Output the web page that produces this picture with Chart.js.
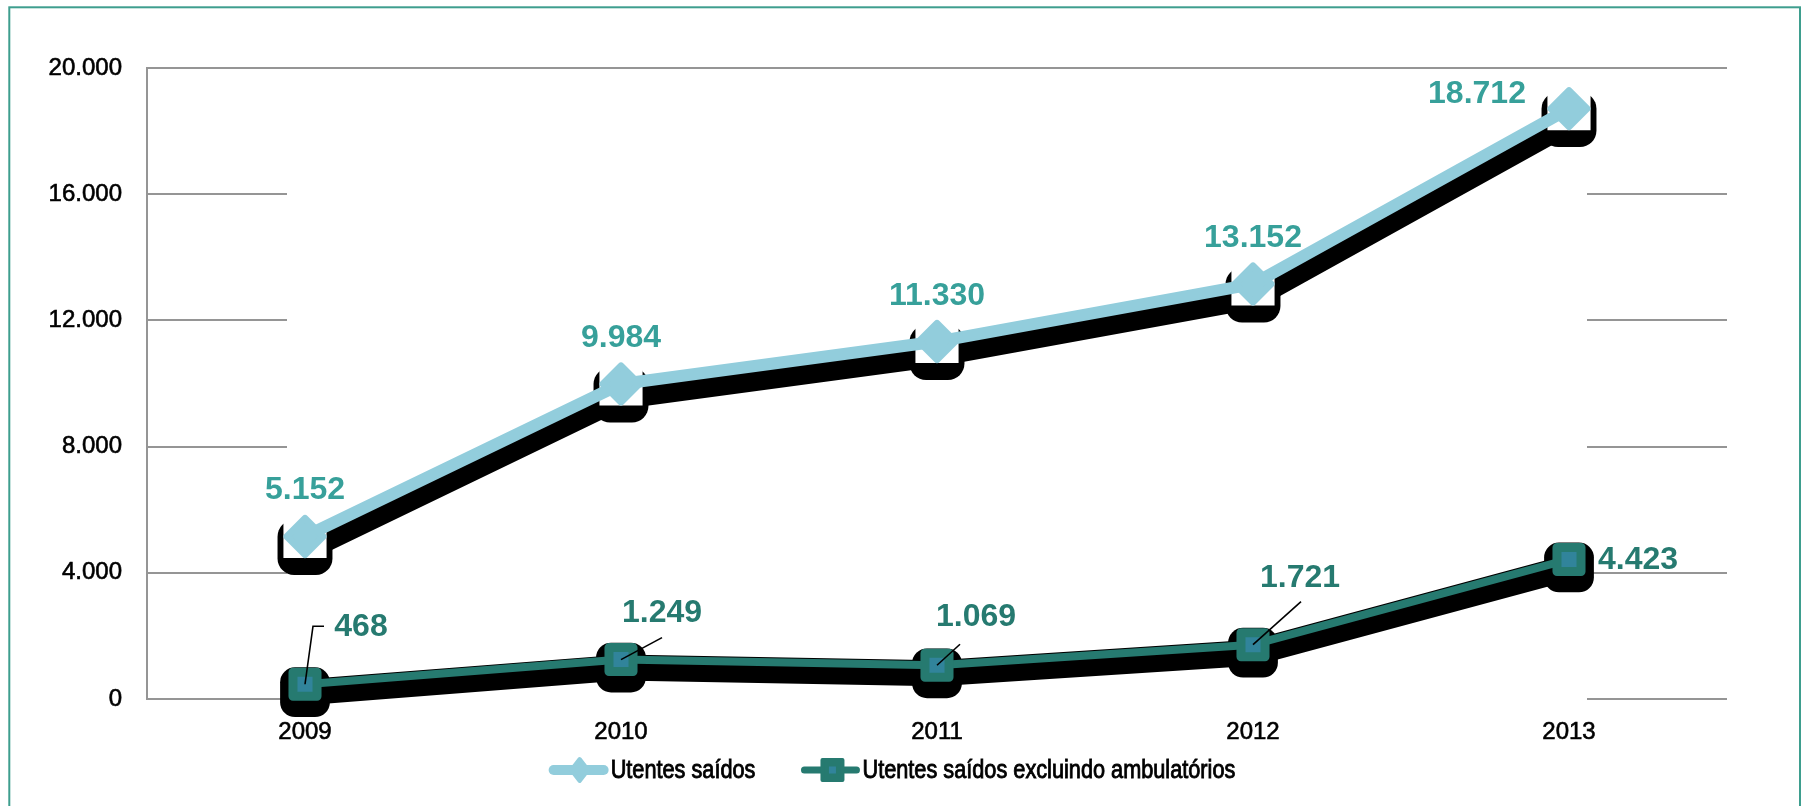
<!DOCTYPE html>
<html><head><meta charset="utf-8">
<script src="https://cdn.jsdelivr.net/npm/chart.js@4/dist/chart.umd.min.js"></script>
<style>html,body{margin:0;padding:0;background:#fff;overflow:hidden}canvas{display:block}</style>
</head><body>
<canvas id="c" width="1803" height="806"></canvas>
<script>
// ---- data ----
const categories = ['2009', '2010', '2011', '2012', '2013'];
const utentesSaidos = [5152, 9984, 11330, 13152, 18712];
const utentesSaidosExclAmb = [468, 1249, 1069, 1721, 4423];
const seriesNames = ['Utentes saídos', 'Utentes saídos excluindo ambulatórios'];
const yMin = 0, yMax = 20000, yStep = 4000;

// ---- label placement (pixel offsets from each point) ----
const upperLabelOffsets = [[0, -46], [0, -46], [0, -45], [0, -46], [-92, -14]];
const lowerLabelOffsets = [[56, -57], [41, -46], [39, -48], [47, -67], [69, 1]];
const lowerLeaders = [[[8, -58], [19, -58]], [[41, -22]], [[23, -21]], [[48, -43]], null];

// ---- styles ----
const C_UP = '#92CDDC';
const C_LOW = '#267A70';
const C_LOW_IN = '#31849B';
const C_UP_LABEL = '#37A09A';
const C_LOW_LABEL = '#267A70';
const C_FRAME = '#3E9E8E';
const C_GRID = '#959595';

const fmt = v => String(v).replace(/\B(?=(\d{3})+(?!\d))/g, '.');

function drawIcon(g, kind, x, y) {
  g.save();
  g.translate(x, y);
  g.lineCap = 'round'; g.lineJoin = 'round';
  if (kind === 0) {
    g.strokeStyle = C_UP; g.lineWidth = 10;
    g.beginPath(); g.moveTo(5, 0); g.lineTo(55, 0); g.stroke();
    g.fillStyle = C_UP; g.lineWidth = 4;
    g.beginPath(); g.moveTo(31, -11); g.lineTo(39.5, 0); g.lineTo(31, 11); g.lineTo(22.5, 0); g.closePath();
    g.fill(); g.stroke();
  } else {
    g.strokeStyle = C_LOW; g.lineWidth = 7;
    g.beginPath(); g.moveTo(4, 0); g.lineTo(56, 0); g.stroke();
    g.fillStyle = C_LOW; g.lineWidth = 4;
    g.beginPath(); g.rect(22, -10, 20, 20); g.fill(); g.stroke();
    g.fillStyle = C_LOW_IN; g.fillRect(28.5, -3.5, 7, 7);
  }
  g.restore();
}

// ---- plugins ----
const framePlugin = {
  id: 'frame',
  beforeDraw(chart) {
    const ctx = chart.ctx;
    ctx.save();
    ctx.fillStyle = '#fff';
    ctx.fillRect(0, 0, chart.width, chart.height);
    ctx.strokeStyle = C_FRAME; ctx.lineWidth = 2;
    ctx.strokeRect(9.3, 7.3, 1800 - 9.3, 900);
    ctx.restore();
  }
};

const gridMask = {
  id: 'gridMask',
  beforeDatasetsDraw(chart) {
    const ctx = chart.ctx, xs = chart.scales.x, ys = chart.scales.y;
    const x0 = xs.getPixelForTick(0) - 18;
    const x1 = xs.getPixelForTick(categories.length - 1) + 18;
    const y0 = ys.getPixelForValue(yMax) + 1.5;
    const y1 = ys.getPixelForValue(yMin) + 2;
    ctx.save(); ctx.fillStyle = '#fff'; ctx.fillRect(x0, y0, x1 - x0, y1 - y0); ctx.restore();
  }
};

const shiftPlugin = {
  id: 'shift',
  beforeDatasetDraw(chart, args, opts) {
    const ctx = chart.ctx;
    ctx.save();
    ctx.lineJoin = 'round';
    const s = opts.shifts[args.index];
    if (s) ctx.translate(s[0], s[1]);
  },
  afterDatasetDraw(chart) { chart.ctx.restore(); }
};

const labelPlugin = {
  id: 'valueLabels',
  afterDatasetsDraw(chart) {
    const ctx = chart.ctx;
    ctx.save();
    ctx.font = "bold 32px 'Liberation Sans', Arial, sans-serif";
    ctx.textAlign = 'center'; ctx.textBaseline = 'middle';
    const up = chart.getDatasetMeta(2).data;
    up.forEach((p, i) => {
      ctx.fillStyle = C_UP_LABEL;
      ctx.fillText(fmt(utentesSaidos[i]), p.x + upperLabelOffsets[i][0], p.y + upperLabelOffsets[i][1]);
    });
    const low = chart.getDatasetMeta(4).data;
    low.forEach((p, i) => {
      const L = lowerLeaders[i];
      if (L) {
        ctx.strokeStyle = '#000'; ctx.lineWidth = 1.6;
        ctx.beginPath(); ctx.moveTo(p.x, p.y);
        L.forEach(q => ctx.lineTo(p.x + q[0], p.y + q[1]));
        ctx.stroke();
      }
      ctx.fillStyle = C_LOW_LABEL;
      ctx.fillText(fmt(utentesSaidosExclAmb[i]), p.x + lowerLabelOffsets[i][0], p.y + lowerLabelOffsets[i][1]);
    });
    ctx.restore();
  }
};

// legend drawn in a condensed style (no narrow font is installed)
const legendPlugin = {
  id: 'condensedLegend',
  afterDraw(chart, args, opts) {
    const ctx = chart.ctx;
    const sx = opts.squeeze, iconW = 60, gapText = 2, gapItems = 45;
    ctx.save();
    ctx.font = "26px 'Liberation Sans', Arial, sans-serif";
    const w = seriesNames.map(t => ctx.measureText(t).width * sx);
    const total = iconW + gapText + w[0] + gapItems + iconW + gapText + w[1];
    let x = opts.centerX - total / 2;
    const y = opts.centerY;
    seriesNames.forEach((t, i) => {
      drawIcon(ctx, i, x, y);
      x += iconW + gapText;
      ctx.save();
      ctx.translate(x, y);
      ctx.scale(sx, 1);
      ctx.fillStyle = '#000'; ctx.strokeStyle = '#000'; ctx.lineWidth = 0.9;
      ctx.textAlign = 'left'; ctx.textBaseline = 'middle';
      ctx.fillText(t, 0, 1);
      ctx.strokeText(t, 0, 1);
      ctx.restore();
      x += w[i] + gapItems;
    });
    ctx.restore();
  }
};

Chart.defaults.font.family = "'Liberation Sans', Arial, sans-serif";

new Chart(document.getElementById('c'), {
  type: 'line',
  data: {
    labels: categories,
    datasets: [
      { // 0: shadow of upper series
        data: utentesSaidos, order: 6, borderColor: '#000', borderWidth: 28, borderJoinStyle: 'round',
        pointStyle: 'rectRounded', pointRadius: 32, pointBackgroundColor: '#000', pointBorderWidth: 0,
        pointHoverRadius: 32, tension: 0, clip: false
      },
      { // 1: white backing behind upper markers
        data: utentesSaidos, order: 5, showLine: false, pointStyle: 'rect', pointRadius: 30.5,
        pointBackgroundColor: '#fff', pointBorderWidth: 0, pointHoverRadius: 30.5, clip: false
      },
      { // 2: upper series
        label: seriesNames[0], data: utentesSaidos, order: 4, borderColor: C_UP, borderWidth: 12,
        borderJoinStyle: 'round', pointStyle: 'rectRot', pointRadius: 18, pointHoverRadius: 18,
        pointBackgroundColor: C_UP, pointBorderColor: C_UP, pointBorderWidth: 7, tension: 0, clip: false
      },
      { // 3: shadow of lower series
        data: utentesSaidosExclAmb, order: 3, borderColor: '#000', borderWidth: 26, borderJoinStyle: 'round',
        pointStyle: 'rectRounded', pointRadius: 29, pointBackgroundColor: '#000', pointBorderWidth: 0,
        pointHoverRadius: 29, tension: 0, clip: false
      },
      { // 4: lower series
        label: seriesNames[1], data: utentesSaidosExclAmb, order: 2, borderColor: C_LOW, borderWidth: 8,
        borderJoinStyle: 'round', pointStyle: 'rect', pointRadius: 17, pointHoverRadius: 17,
        pointBackgroundColor: C_LOW_IN, pointBorderColor: C_LOW, pointBorderWidth: 9, tension: 0, clip: false
      }
    ]
  },
  options: {
    responsive: false,
    animation: false,
    devicePixelRatio: 1,
    events: [],
    layout: { padding: { left: 0, right: 76, top: 68, bottom: 47 } },
    scales: {
      x: {
        offset: true,
        grid: { display: false, drawTicks: false },
        border: { display: false },
        ticks: { color: '#000', font: { size: 24 }, padding: 19, maxRotation: 0,
                 textStrokeColor: '#000', textStrokeWidth: 0.6 },
        afterFit(s) { s.height = 60; }
      },
      y: {
        min: yMin, max: yMax,
        grid: { color: C_GRID, lineWidth: 2, drawTicks: false },
        border: { display: true, color: C_GRID, width: 2 },
        ticks: { stepSize: yStep, color: '#000', font: { size: 24 }, padding: 25, callback: v => fmt(v),
                 textStrokeColor: '#000', textStrokeWidth: 0.6 },
        afterFit(s) { s.width = 147; }
      }
    },
    plugins: {
      tooltip: { enabled: false },
      legend: { display: false },
      shift: { shifts: { 0: [0, 11], 3: [0, 8] } },
      condensedLegend: { squeeze: 0.835, centerX: 892, centerY: 770 }
    }
  },
  plugins: [framePlugin, gridMask, shiftPlugin, labelPlugin, legendPlugin]
});
</script>
</body></html>
